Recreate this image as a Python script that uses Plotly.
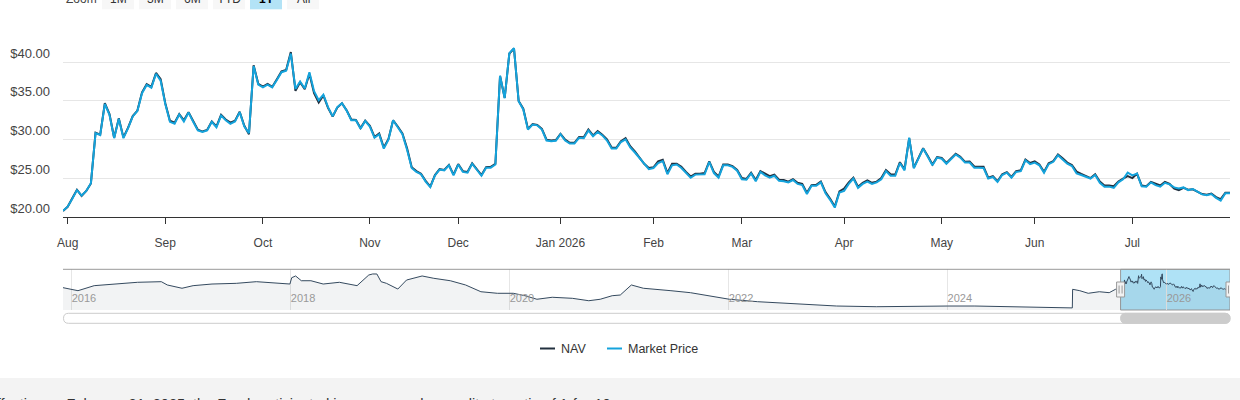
import pandas as pd
import plotly.graph_objects as go

# trading calendar of the 1Y window (weekends and these closures are skipped)
START = "2025-07-31"
END = "2026-07-31"
HOLIDAYS = ["2025-09-01", "2025-11-27", "2025-12-25", "2026-01-01", "2026-01-19",
            "2026-02-16", "2026-04-03", "2026-05-25", "2026-06-19", "2026-07-03"]

MARKET_PRICE = [
    20.85, 21.37, 22.4, 23.5, 22.8, 23.4, 24.4, 30.85, 30.6, 34.6,
    33.2, 30.2, 32.7, 30.2, 31.5, 33.0, 33.7, 36.0, 37.05, 36.7,
    38.5, 37.6, 34.6, 32.3, 32.05, 33.25, 32.35, 33.5, 32.3, 31.2,
    31.0, 31.2, 32.3, 31.6, 33.1, 32.5, 32.05, 32.35, 33.55, 31.7,
    30.85, 39.5, 37.1, 36.75, 37.1, 36.75, 37.7, 38.7, 38.9, 41.1,
    36.55, 37.5, 36.6, 38.7, 36.25, 35.1, 35.8, 34.2, 33.0, 34.2,
    34.7, 33.75, 32.5, 32.5, 31.4, 32.4, 31.7, 30.25, 30.7, 28.85,
    30.0, 32.5, 31.6, 30.7, 28.7, 26.35, 25.85, 25.55, 24.6, 23.9,
    25.4, 26.15, 26.05, 26.7, 25.4, 26.8, 25.85, 25.75, 26.9, 26.15,
    25.35, 26.4, 26.4, 26.8, 38.25, 35.35, 41.15, 41.8, 34.95, 33.9,
    31.3, 31.95, 31.85, 31.3, 29.9, 29.8, 29.85, 30.7, 29.9, 29.5,
    29.5, 30.25, 30.2, 31.2, 30.45, 31.0, 30.55, 29.9, 28.85, 28.85,
    29.7, 30.05, 29.0, 28.35, 27.65, 26.8, 26.2, 26.35, 27.0, 27.25,
    25.55, 26.7, 26.8, 26.35, 25.7, 25.1, 25.5, 25.5, 25.55, 27.15,
    25.7, 25.1, 26.7, 26.7, 26.5, 26.0, 24.9, 24.85, 25.65, 24.65,
    25.85, 25.4, 25.1, 25.35, 24.7, 24.65, 24.5, 24.8, 24.3, 24.15,
    23.0, 24.05, 24.05, 24.5, 23.1, 22.25, 21.25, 23.2, 23.4, 24.3,
    25.0, 23.8, 24.3, 24.6, 24.3, 24.5, 24.9, 25.95, 25.35, 25.35,
    27.0, 26.05, 30.25, 26.3, 27.5, 28.85, 27.8, 26.7, 27.7, 27.55,
    26.9, 27.45, 28.1, 27.7, 27.05, 27.05, 26.4, 26.4, 26.35, 25.0,
    25.2, 24.55, 25.45, 25.75, 25.1, 25.85, 25.95, 27.35, 26.85, 27.05,
    26.7, 25.75, 26.85, 27.15, 28.0, 27.45, 26.9, 26.6, 25.65, 25.45,
    25.2, 25.0, 25.45, 24.45, 23.95, 23.95, 23.8, 24.5, 24.9, 25.75,
    25.4, 25.65, 24.0, 23.95, 24.5, 24.15, 23.95, 24.45, 24.25, 23.85,
    23.7, 23.85, 23.5, 23.65, 23.3, 22.95, 22.85, 23.0, 22.5, 22.15,
    23.1, 23.1,
]

NAV = [
    20.8, 21.35, 22.45, 23.55, 22.75, 23.4, 24.35, 30.9, 30.65, 34.7,
    33.3, 30.25, 32.75, 30.3, 31.55, 33.05, 33.75, 36.1, 37.15, 36.8,
    38.6, 37.8, 34.7, 32.45, 32.2, 33.3, 32.5, 33.55, 32.4, 31.3,
    31.05, 31.25, 32.35, 31.7, 33.2, 32.6, 32.2, 32.45, 33.6, 31.8,
    30.7, 39.6, 37.2, 36.85, 37.2, 36.8, 37.8, 38.8, 39.0, 41.3,
    36.3, 37.4, 36.5, 38.5, 36.0, 34.8, 35.7, 34.1, 33.0, 34.15,
    34.7, 33.8, 32.6, 32.55, 31.5, 32.45, 31.8, 30.35, 30.8, 29.0,
    30.1, 32.5, 31.7, 30.8, 28.9, 26.45, 25.95, 25.6, 24.7, 23.95,
    25.45, 26.2, 26.1, 26.75, 25.5, 26.85, 25.95, 25.85, 26.95, 26.25,
    25.45, 26.45, 26.5, 26.9, 38.2, 35.4, 41.1, 41.75, 35.0, 34.0,
    31.4, 32.0, 31.9, 31.4, 30.0, 29.9, 29.95, 30.75, 30.0, 29.6,
    29.6, 30.35, 30.3, 31.3, 30.55, 31.1, 30.65, 30.05, 29.0, 28.95,
    29.8, 30.2, 29.15, 28.5, 27.75, 26.9, 26.35, 26.45, 27.2, 27.4,
    25.7, 26.9, 26.9, 26.5, 25.85, 25.25, 25.6, 25.6, 25.7, 27.2,
    25.85, 25.25, 26.8, 26.8, 26.6, 26.1, 25.05, 24.95, 25.75, 24.8,
    25.95, 25.6, 25.3, 25.5, 24.85, 24.8, 24.6, 24.9, 24.45, 24.3,
    23.15, 24.15, 24.2, 24.6, 23.25, 22.4, 21.4, 23.35, 23.7, 24.5,
    25.1, 23.95, 24.45, 24.75, 24.45, 24.6, 25.05, 26.1, 25.55, 25.5,
    27.1, 26.2, 30.2, 26.4, 27.6, 28.9, 27.9, 26.8, 27.75, 27.65,
    27.0, 27.55, 28.2, 27.8, 27.15, 27.2, 26.55, 26.5, 26.5, 25.1,
    25.3, 24.65, 25.55, 25.8, 25.2, 25.95, 26.05, 27.45, 27.0, 27.2,
    26.8, 25.85, 26.95, 27.25, 28.1, 27.6, 27.05, 26.75, 25.9, 25.6,
    25.3, 25.05, 25.55, 24.6, 24.1, 24.1, 24.0, 24.6, 25.0, 25.3,
    25.05, 25.6, 24.1, 24.0, 24.55, 24.3, 24.1, 24.55, 24.3, 23.7,
    23.5, 23.8, 23.55, 23.6, 23.25, 23.0, 22.9, 23.05, 22.6, 22.35,
    23.15, 23.15,
]

# longer NAV history, only shown in the navigator strip
HIST_DATES = [
    "2015-12-03", "2016-01-22", "2016-03-16", "2016-05-20", "2016-08-08", "2016-10-26",
    "2016-11-15", "2017-01-03", "2017-02-09", "2017-04-13", "2017-07-03", "2017-09-08",
    "2017-11-13", "2017-12-29", "2018-01-04", "2018-01-17", "2018-02-05", "2018-03-09",
    "2018-04-19", "2018-06-12", "2018-08-10", "2018-08-29", "2018-09-18", "2018-10-01",
    "2018-10-15", "2018-10-29", "2018-11-16", "2018-12-24", "2019-01-22", "2019-03-15",
    "2019-04-23", "2019-06-17", "2019-08-07", "2019-09-27", "2019-11-21", "2020-01-13",
    "2020-02-21", "2020-04-01", "2020-05-22", "2020-07-28", "2020-09-21", "2020-10-29",
    "2020-12-08", "2021-01-04", "2021-02-10", "2021-03-22", "2021-05-13", "2021-06-22",
    "2021-08-26", "2021-11-12", "2022-01-03", "2022-04-07", "2022-07-22", "2022-10-21",
    "2022-12-27", "2023-05-08", "2023-09-05", "2024-01-02", "2024-04-01", "2024-08-09",
    "2025-02-20", "2025-02-21", "2025-03-17", "2025-04-14", "2025-05-21", "2025-06-23",
    "2025-07-14",
]
HIST_NAV = [
    25.8, 22.3, 28.1, 29.7, 32.0, 32.7,
    28.9, 25.1, 28.1, 30.0, 30.8, 32.7,
    30.8, 30.0, 37.3, 39.3, 33.8, 33.8,
    30.0, 32.0, 28.1, 34.6, 40.4, 41.6,
    41.6, 32.7, 30.8, 24.2, 34.6, 39.3,
    36.6, 33.8, 28.9, 21.1, 19.3, 19.3,
    16.5, 12.4, 14.7, 13.5, 10.7, 12.4,
    16.5, 17.3, 28.9, 25.1, 23.1, 22.3,
    20.0, 15.4, 12.4, 9.6, 7.7, 6.6,
    4.6, 3.8, 4.6, 4.6, 4.6, 3.8,
    2.4, 23.9, 22.3, 19.3, 21.1, 20.0,
    23.9,
]

MONTH_LABELS = ["Aug", "Sep", "Oct", "Nov", "Dec", "Jan 2026",
                "Feb", "Mar", "Apr", "May", "Jun", "Jul"]
Y_TICKS = [20, 25, 30, 35, 40, 45]
Y_LABELS = ["$20.00", "$25.00", "$30.00", "$35.00", "$40.00", ""]
NAV_YEARS = ["2016", "2018", "2020", "2022", "2024", "2026"]
BUTTONS = ["1M", "3M", "6M", "YTD", "1Y", "All"]
SELECTED = "1Y"
NOTE = ("Effective on February 21, 2025, the Fund participated in a reverse share "
        "split at a ratio of 1-for-10.")

FONT = "Liberation Sans, Arial, sans-serif"
NAV_COLOR = "#22303f"
MKT_COLOR = "#14a3dc"
W, H, L, R = 1240, 400, 63, 10


def px(x):
    # pixel column -> paper x
    return (x - L) / (W - L - R)


def py(y):
    # pixel row -> paper y
    return 1 - y / H


def rounded(x0, x1, y0, y1, r=5):
    rx, ry = r / (W - L - R), r / H
    return (f"M{x0 + rx},{y0} L{x1 - rx},{y0} Q{x1},{y0} {x1},{y0 + ry} "
            f"L{x1},{y1 - ry} Q{x1},{y1} {x1 - rx},{y1} L{x0 + rx},{y1} "
            f"Q{x0},{y1} {x0},{y1 - ry} L{x0},{y0 + ry} Q{x0},{y0} {x0 + rx},{y0} Z")


dates = pd.bdate_range(START, END, freq="C", holidays=HOLIDAYS)
month_starts = [d for i, d in enumerate(dates) if i > 0 and d.month != dates[i - 1].month]

nav_x = list(pd.to_datetime(HIST_DATES)) + list(dates)
nav_y = HIST_NAV + NAV
nav_span = (dates[-1] - nav_x[0]).total_seconds()
sel_left = (dates[0] - nav_x[0]).total_seconds() / nav_span

fig = go.Figure()
fig.add_trace(go.Scatter(x=dates, y=NAV, name="NAV", mode="lines",
                         line=dict(color=NAV_COLOR, width=2)))
fig.add_trace(go.Scatter(x=dates, y=MARKET_PRICE, name="Market Price", mode="lines",
                         line=dict(color=MKT_COLOR, width=2)))
fig.add_trace(go.Scatter(x=nav_x, y=nav_y, xaxis="x2", yaxis="y2", mode="lines",
                         line=dict(color="#34495e", width=1), fill="tozeroy",
                         fillcolor="rgba(40,55,75,0.06)", hoverinfo="skip",
                         showlegend=False))

shapes = [
    # navigator selection mask and outline
    dict(type="rect", xref="x2", yref="paper", x0=dates[0], x1=dates[-1],
         y0=py(310), y1=py(269.3), fillcolor="rgba(95,198,238,0.5)",
         line=dict(color="#999", width=1), layer="between"),
    dict(type="line", xref="paper", yref="paper", x0=0, x1=1, y0=py(269.3), y1=py(269.3),
         line=dict(color="#999", width=1)),
    # scrollbar
    dict(type="path", xref="paper", yref="paper",
         path=rounded(px(63.5), 1, py(323.3), py(313.3)),
         fillcolor="white", line=dict(color="#cccccc", width=1)),
    dict(type="path", xref="paper", yref="paper",
         path=rounded(sel_left, 1, py(323.3), py(313.3)),
         fillcolor="#cccccc", line=dict(color="#cccccc", width=1)),
    # grey note band
    dict(type="rect", xref="paper", yref="paper", x0=px(0), x1=px(W), y0=py(H + 5),
         y1=py(378), fillcolor="#f3f3f3", line=dict(width=0)),
]
for d in (dates[0], dates[-1]):
    shapes.append(dict(type="rect", xref="x2", yref="paper", xsizemode="pixel",
                       xanchor=d, x0=-4, x1=4, y0=py(297), y1=py(282),
                       fillcolor="#f2f2f2", line=dict(color="#999", width=1)))
    for off in (-1.5, 1.5):
        shapes.append(dict(type="line", xref="x2", yref="paper", xsizemode="pixel",
                           xanchor=d, x0=off, x1=off, y0=py(293.5), y1=py(285.5),
                           line=dict(color="#999", width=1)))

annotations = [dict(x=px(64), y=py(-1), xref="paper", yref="paper", text="Zoom",
                    showarrow=False, xanchor="left", yanchor="middle",
                    font=dict(size=12, color="#444"))]
for i, b in enumerate(BUTTONS):
    x0 = 102 + i * 37
    active = b == SELECTED
    shapes.append(dict(type="rect", xref="paper", yref="paper", x0=px(x0), x1=px(x0 + 32),
                       y0=py(9.3), y1=py(-14),
                       fillcolor="#b3e3f6" if active else "#f7f7f7", line=dict(width=0)))
    annotations.append(dict(x=px(x0 + 16), y=py(-1), xref="paper", yref="paper",
                            text=f"<b>{b}</b>" if active else b, showarrow=False,
                            xanchor="center", yanchor="middle",
                            font=dict(size=12, color="#000" if active else "#333")))

# legend drawn by hand to keep Highcharts' short symbol lines
for (x0, color, label) in [(540, NAV_COLOR, "NAV"), (607, MKT_COLOR, "Market Price")]:
    shapes.append(dict(type="line", xref="paper", yref="paper", x0=px(x0), x1=px(x0 + 15),
                       y0=py(348.5), y1=py(348.5), line=dict(color=color, width=2)))
    annotations.append(dict(x=px(x0 + 19), y=py(348.5), xref="paper", yref="paper",
                            text=label, showarrow=False, xanchor="left", yanchor="middle",
                            font=dict(size=12.5, color="#333")))

annotations.append(dict(x=px(-15), y=py(393.5), xref="paper", yref="paper", text=NOTE,
                        showarrow=False, xanchor="left", yanchor="top",
                        font=dict(size=14.5, color="#333")))

fig.update_layout(
    width=W, height=H,
    margin=dict(l=L, r=R, t=0, b=0),
    paper_bgcolor="white", plot_bgcolor="white",
    font=dict(family=FONT, color="#333"),
    showlegend=False,
    hovermode="x unified",
    shapes=shapes,
    annotations=annotations,
    xaxis=dict(
        domain=[0, 1], anchor="y", range=[dates[0], dates[-1]],
        rangebreaks=[dict(bounds=["sat", "mon"]), dict(values=HOLIDAYS)],
        tickvals=month_starts, ticktext=MONTH_LABELS,
        ticks="outside", ticklen=6, tickcolor="#333", showgrid=False,
        showline=True, linecolor="#333", linewidth=1, zeroline=False,
        tickfont=dict(size=12, color="#444"), ticklabelstandoff=8,
    ),
    yaxis=dict(
        domain=[py(217.3), py(23.3)], range=[20, 45],
        tickvals=Y_TICKS, ticktext=Y_LABELS,
        gridcolor="#e6e6e6", gridwidth=1, zeroline=False, showline=False,
        tickfont=dict(size=13, color="#444"),
        ticklabelposition="outside top", ticklabelstandoff=12,
    ),
    xaxis2=dict(
        domain=[0, 1], anchor="y2", range=[nav_x[0], dates[-1]],
        tickvals=[f"{y}-01-01" for y in NAV_YEARS], ticktext=NAV_YEARS,
        showgrid=True, gridcolor="#e6e6e6", ticks="", showline=False, zeroline=False,
        ticklabelposition="inside right", tickfont=dict(size=11, color="#999"),
        fixedrange=True,
    ),
    yaxis2=dict(domain=[py(310), py(269.3)], range=[0, 47], visible=False,
                fixedrange=True),
)

# the page's default 8px body margin would shift the whole chart
fig.write_html("out.html", config={"displayModeBar": False},
               post_script="document.body.style.margin='0';")
